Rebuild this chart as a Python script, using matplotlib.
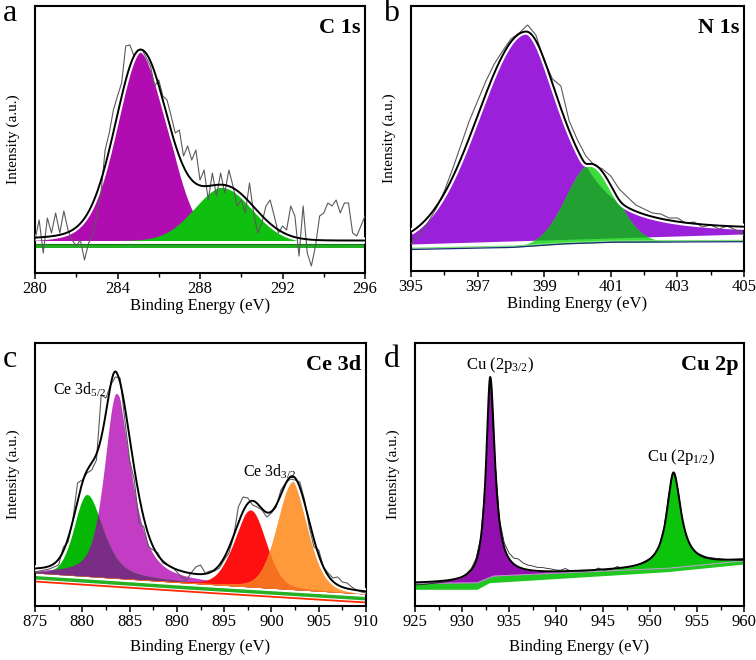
import numpy as np
import matplotlib
matplotlib.use('Agg')
import matplotlib.pyplot as plt
from matplotlib.ticker import MultipleLocator

plt.rcParams['font.family'] = 'Liberation Serif'
plt.rcParams['mathtext.fontset'] = 'custom'
plt.rcParams['mathtext.rm'] = 'Liberation Serif'
plt.rcParams['mathtext.it'] = 'Liberation Serif:italic'

# intensities are in a.u. (zero = bottom of each frame)

# ---- C 1s ----
c1s_energy = np.arange(280, 296.01, 0.2)
c1s_raw = [33, 53, 20, 55, 40, 60, 40, 62, 43, 33,
           27, 33, 13, 30, 37, 57, 80, 123, 140, 163,
           177, 190, 227, 228, 217, 223, 223, 215, 207, 187,
           193, 177, 173, 157, 140, 143, 117, 127, 113, 123,
           93, 103, 73, 100, 77, 100, 80, 103, 87, 67,
           73, 60, 90, 60, 40, 50, 67, 73, 57, 40,
           47, 43, 67, 57, 17, 67, 20, 7, 27, 57,
           60, 70, 67, 73, 60, 70, 70, 40, 37, 47, 57]
c1s_bg = 32.5
c1s_center = [285.1, 289.2]
c1s_height = [190, 54]
c1s_hw_left = [1.45, 1.7]
c1s_hw_right = [1.55, 1.7]
c1s_eta_left = [0.2, 0.0]
c1s_eta_right = [0.0, 0.0]

# ---- N 1s ----
n1s_energy = np.arange(395, 405.01, 0.25)
n1s_raw = [27, 36, 48, 62, 80, 102, 126, 150, 170, 190,
           207, 220, 232, 238, 246, 236, 210, 192, 185, 150,
           131, 115, 106, 102, 95, 82, 74, 66, 62, 58,
           57, 53, 53, 48, 49, 44, 46, 42, 45, 41, 36]
n1s_bgp_x = [395, 405]
n1s_bgp_y = [27.0, 37.0]
n1s_bgg_x = [395, 398, 399.5, 401, 405]
n1s_bgg_y = [21.5, 23.5, 27.0, 28.8, 29.3]
n1s_center = [398.45, 400.4]
n1s_height = [209, 79]
n1s_hw_left = [1.7, 0.87]
n1s_hw_right = [1.35, 0.87]
n1s_eta_left = [0.0, 0.0]
n1s_eta_right = [0.85, 0.0]

# ---- Ce 3d ----
ce_energy = np.arange(875, 910.01, 0.5)
ce_raw = [34, 35, 36, 37, 39, 41, 59, 64, 86, 123,
          126, 133, 136, 146, 211, 208, 221, 229, 228, 186,
          146, 126, 83, 79, 59, 56, 53, 43, 41, 39,
          34, 29, 26, 33, 39, 41, 33, 35, 35, 38,
          46, 53, 69, 99, 109, 108, 101, 99, 96, 89,
          93, 99, 116, 123, 127, 126, 124, 106, 79, 59,
          56, 39, 33, 28, 29, 24, 23, 19, 16, 14, 13]
ce_bg_x = [875, 891, 910]
ce_bg_y = [33, 23, 12]
ce_center = [880.5, 883.6, 897.8, 902.3]
ce_height = [82, 185, 77, 108]
ce_hw_left = [1.6, 1.5, 2.05, 2.0]
ce_hw_right = [2.0, 2.1, 1.9, 2.05]
ce_eta_left = [0.2, 0.55, 0.2, 0.2]
ce_eta_right = [0.6, 0.5, 0.2, 0.2]

# ---- Cu 2p ----
cu_energy = np.arange(925, 960.01, 0.5)
cu_raw = [21, 21.3, 21.7, 22.2, 22.7, 23.2, 23.7, 24.8, 26, 27.5,
          29, 32.7, 37.7, 47.7, 69, 126, 229, 146, 86, 63,
          53, 48, 47, 43, 41, 40, 38.7, 38.5, 37.7, 37,
          36, 35.8, 37.5, 35.2, 35, 35, 35, 35.3, 35.3, 38,
          36, 36.3, 36.7, 39.5, 37.7, 38.5, 39.3, 40.8, 42.7, 45,
          47.7, 52.7, 61, 79, 113, 134, 116, 83, 66, 57.7,
          53, 51, 49, 48.3, 47.7, 47.2, 46.7, 46.3, 46, 45.6, 45.3]
cu_bgu_x = [925, 931.6, 933.3, 951.8, 960]
cu_bgu_y = [22.7, 23.3, 30, 37.7, 45.3]
cu_bgl_x = [925, 931.6, 932.9, 951.8, 960]
cu_bgl_y = [16.7, 16.7, 23.3, 34.3, 42]
cu_center = [933.0, 952.5]
cu_height = [200, 95]
cu_hw_left = [0.52, 0.85]
cu_hw_right = [0.6, 0.95]
cu_eta = [1.0, 1.0]


def peak(x, c, h, wl, wr, el, er):
    # asymmetric pseudo-Voigt line
    d = x - c
    w = np.where(d < 0, wl, wr)
    eta = np.where(d < 0, el, er)
    u = (d / w) ** 2
    return h * ((1 - eta) * np.exp(-np.log(2) * u) + eta / (1 + u))


W, H = 756, 660
fig = plt.figure(figsize=(W / 100, H / 100), dpi=100)


def box(l, t, r, b):
    return [l / W, 1 - b / H, (r - l) / W, (b - t) / H]


def style(ax, xlim, ticks, minor, ytop, xpad):
    ax.set_xlim(*xlim)
    ax.set_ylim(0, ytop)
    ax.set_yticks([])
    ax.set_xticks(ticks)
    ax.xaxis.set_minor_locator(MultipleLocator(minor))
    ax.tick_params(axis='x', which='major', direction='out', length=4, width=1.1,
                   labelsize=12, pad=1.5)
    ax.tick_params(axis='x', which='minor', direction='out', length=3, width=1.0)
    for s in ax.spines.values():
        s.set_linewidth(1.5)
    ax.set_xlabel('Binding Energy (eV)', fontsize=12, labelpad=xpad)
    ax.set_ylabel('Intensity (a.u.)', fontsize=11, labelpad=11)


def envelope(ax, x, y, halo=True):
    if halo:
        ax.plot(x, y, color='white', lw=4.5, solid_capstyle='butt', zorder=4)
    ax.plot(x, y, color='black', lw=1.4, zorder=6)


# ---------------- a: C 1s ----------------
ax = fig.add_axes(box(35, 6, 365, 273))
x = np.linspace(280, 296, 900)
bg = np.full_like(x, c1s_bg)
comps = [peak(x, c1s_center[i], c1s_height[i], c1s_hw_left[i], c1s_hw_right[i],
              c1s_eta_left[i], c1s_eta_right[i]) for i in range(2)]
ax.fill_between(x, 25.5, 29.5, color='#22b022', lw=0)
ax.plot(x, np.full_like(x, 29.0), color='#137a13', lw=0.8)
ax.fill_between(x, bg, bg + comps[0], color='#b10cb1', lw=0)
ax.fill_between(x, bg, bg + comps[1], color='#10c010', lw=0)
fit = bg + comps[0] + comps[1]
envelope(ax, x, fit)
ax.plot(c1s_energy, c1s_raw, color='#5a5a5a', lw=0.8, zorder=5)
style(ax, (280, 296), np.arange(280, 297, 4), 2, 267, 1)
ax.text(0.985, 0.955, 'C 1s', transform=ax.transAxes, ha='right', va='top',
        fontsize=16, fontweight='bold')

# ---------------- b: N 1s ----------------
ax = fig.add_axes(box(411, 6, 744, 271))
x = np.linspace(395, 405, 900)
bg_p = np.interp(x, n1s_bgp_x, n1s_bgp_y)
bg_g = np.interp(x, n1s_bgg_x, n1s_bgg_y)
p = peak(x, n1s_center[0], n1s_height[0], n1s_hw_left[0], n1s_hw_right[0],
         n1s_eta_left[0], n1s_eta_right[0])
g = peak(x, n1s_center[1], n1s_height[1], n1s_hw_left[1], n1s_hw_right[1],
         n1s_eta_left[1], n1s_eta_right[1])
ax.fill_between(x, bg_p, bg_p + p, color='#9b20d9', lw=0)
ax.fill_between(x, bg_g, bg_g + g, color='#3ddc3d', lw=0)
lo = np.maximum(bg_g, bg_p)
hi = np.minimum(bg_g + g, bg_p + p)
ax.fill_between(x, lo, hi, where=hi > lo, color='#23a032', lw=0)
ax.plot(x, bg_g + 1.2, color='#7be07b', lw=1.0)
ax.plot(x, bg_g, color='#1b2a7a', lw=0.9)
# smooth maximum of the two component tops
s = 3.0
top_p = bg_p + p
top_g = bg_g + g
fit = s * np.logaddexp(top_p / s, top_g / s)
envelope(ax, x, fit)
ax.plot(n1s_energy, n1s_raw, color='#5a5a5a', lw=0.8, zorder=5)
style(ax, (395, 405), np.arange(395, 406, 2), 1, 265, 1)
ax.text(0.985, 0.955, 'N 1s', transform=ax.transAxes, ha='right', va='top',
        fontsize=16, fontweight='bold')

# ---------------- c: Ce 3d ----------------
ax = fig.add_axes(box(35, 343, 366, 606))
x = np.linspace(875, 910, 1400)
bg = np.interp(x, ce_bg_x, ce_bg_y)
comps = [peak(x, ce_center[i], ce_height[i], ce_hw_left[i], ce_hw_right[i],
              ce_eta_left[i], ce_eta_right[i]) for i in range(4)]
ax.fill_between(x, bg - 6, bg - 2.5, color='#25b025', lw=0)
ax.plot(x, bg - 8.5, color='#ff2a00', lw=1.3)
ax.fill_between(x, bg, bg + comps[1], color='#c23cc4', lw=0)
ax.fill_between(x, bg, bg + comps[0], color='#05b805', lw=0)
ax.fill_between(x, bg, bg + np.minimum(comps[0], comps[1]), color='#7a2d84', lw=0)
ax.fill_between(x, bg, bg + comps[2], color='#ff1010', lw=0)
ax.fill_between(x, bg, bg + comps[3], color='#ff9a3c', lw=0)
ax.fill_between(x, bg, bg + np.minimum(comps[2], comps[3]), color='#f5701f', lw=0)
fit = bg + comps[0] + comps[1] + comps[2] + comps[3]
envelope(ax, x, fit)
ax.plot(ce_energy, ce_raw, color='#5a5a5a', lw=0.8, zorder=5)
style(ax, (875, 910), np.arange(875, 911, 5), 2.5, 263, 7)
ax.text(0.985, 0.955, 'Ce 3d', transform=ax.transAxes, ha='right', va='top',
        fontsize=16, fontweight='bold')
ax.text(876.9, 211, r'Ce 3d$_{\mathrm{5/2}}$', fontsize=11.5, ha='left', va='baseline',
        zorder=8)
ax.text(897.0, 129, r'Ce 3d$_{\mathrm{3/2}}$', fontsize=11.5, ha='left', va='baseline',
        zorder=8)

# ---------------- d: Cu 2p ----------------
ax = fig.add_axes(box(415, 343, 744, 606))
x = np.linspace(925, 960, 1400)
bg_u = np.interp(x, cu_bgu_x, cu_bgu_y)
bg_l = np.interp(x, cu_bgl_x, cu_bgl_y)
comps = [peak(x, cu_center[i], cu_height[i], cu_hw_left[i], cu_hw_right[i],
              cu_eta[i], cu_eta[i]) for i in range(2)]
ax.fill_between(x, bg_l, bg_u, color='#22c822', lw=0)
ax.fill_between(x, bg_u, bg_u + comps[0], color='#930fb0', lw=0)
ax.fill_between(x, bg_u, bg_u + comps[1], color='#0cc40c', lw=0)
ax.plot(x, bg_u, color='#c9a0d6', lw=0.6)
fit = bg_u + comps[0] + comps[1]
ax.plot(cu_energy, cu_raw, color='#222222', lw=0.6, zorder=5)
envelope(ax, x, fit, halo=False)
style(ax, (925, 960), np.arange(925, 961, 5), 2.5, 263, 7)
ax.text(0.985, 0.955, 'Cu 2p', transform=ax.transAxes, ha='right', va='top',
        fontsize=16, fontweight='bold')
ax.text(930.4, 237, r'Cu (2p$_{\mathrm{3/2}}$)', fontsize=12, ha='left', va='baseline',
        zorder=8)
ax.text(949.7, 145, r'Cu (2p$_{\mathrm{1/2}}$)', fontsize=12, ha='left', va='baseline',
        zorder=8)

# panel letters
fig.text(3 / W, 1 - 21 / H, 'a', fontsize=23, va='baseline')
fig.text(383 / W, 1 - 21 / H, 'b', fontsize=23, va='baseline')
fig.text(3 / W, 1 - 366.7 / H, 'c', fontsize=23, va='baseline')
fig.text(384 / W, 1 - 366.7 / H, 'd', fontsize=23, va='baseline')

fig.savefig('out.png', dpi=100)
